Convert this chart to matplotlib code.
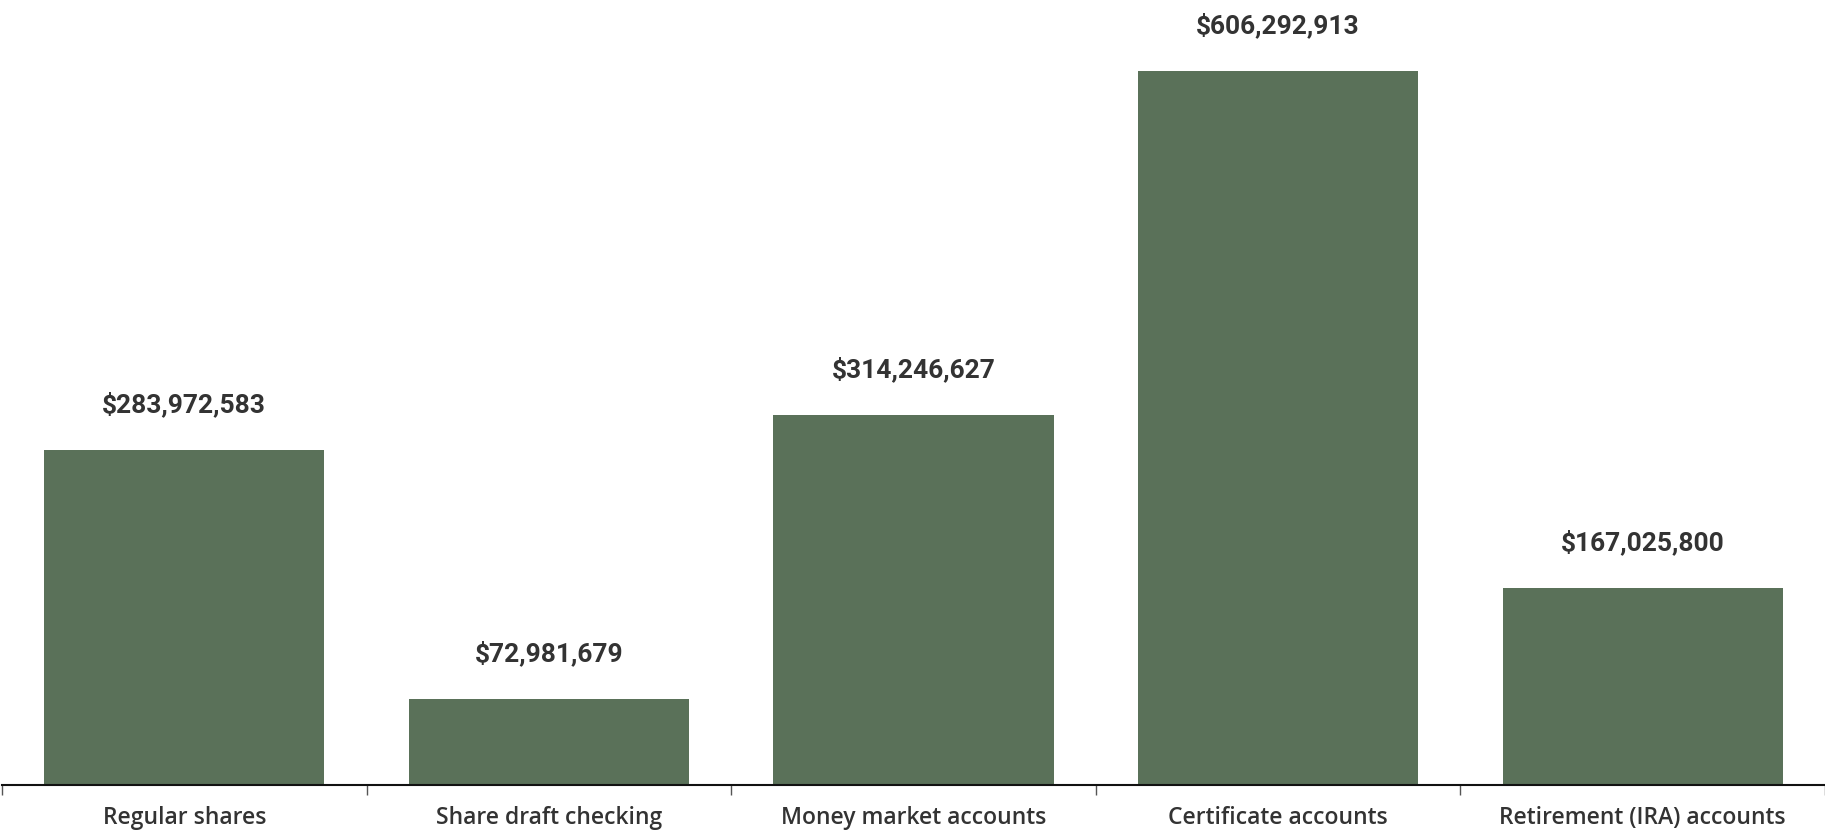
import matplotlib

matplotlib.use("Agg")
import matplotlib.pyplot as plt
from matplotlib.ticker import FixedLocator

# Share balances by account type
categories = [
    "Regular shares",
    "Share draft checking",
    "Money market accounts",
    "Certificate accounts",
    "Retirement (IRA) accounts",
]
balances = [283972583, 72981679, 314246627, 606292913, 167025800]

BAR_COLOR = "#5a7159"
TEXT_COLOR = "#333333"

W, H, DPI = 1825, 832, 100
fig = plt.figure(figsize=(W / DPI, H / DPI), dpi=DPI)
ax = fig.add_axes([2 / W, 47 / H, (W - 2) / W, 785 / H])

x = list(range(len(categories)))
bars = ax.bar(x, balances, width=0.768, color=BAR_COLOR)

ax.set_xlim(-0.5, len(categories) - 0.5)
ax.set_ylim(0, 666.4e6)

# value labels above each bar
for rect, val in zip(bars, balances):
    ax.annotate(
        f"${val:,}",
        xy=(rect.get_x() + rect.get_width() / 2, rect.get_height()),
        xytext=(0, 38),
        textcoords="offset pixels",
        ha="center",
        va="baseline",
        fontsize=19,
        fontfamily="Roboto",
        fontweight="bold",
        color=TEXT_COLOR,
    )

# category names centred under bars, separators between them
ax.set_xticks(x)
ax.set_xticklabels(categories, fontsize=16.5, fontfamily="Open Sans",
                   fontweight="semibold", color=TEXT_COLOR)
ax.tick_params(axis="x", which="major", length=0, pad=15)
ax.xaxis.set_minor_locator(FixedLocator([i - 0.5 for i in range(len(categories) + 1)]))
ax.tick_params(axis="x", which="minor", length=7, width=1, color="#555555")

ax.set_yticks([])
for side in ("top", "right", "left"):
    ax.spines[side].set_visible(False)
ax.spines["bottom"].set_linewidth(1.5)
ax.spines["bottom"].set_color("#111111")

fig.savefig("out.png", dpi=DPI)
